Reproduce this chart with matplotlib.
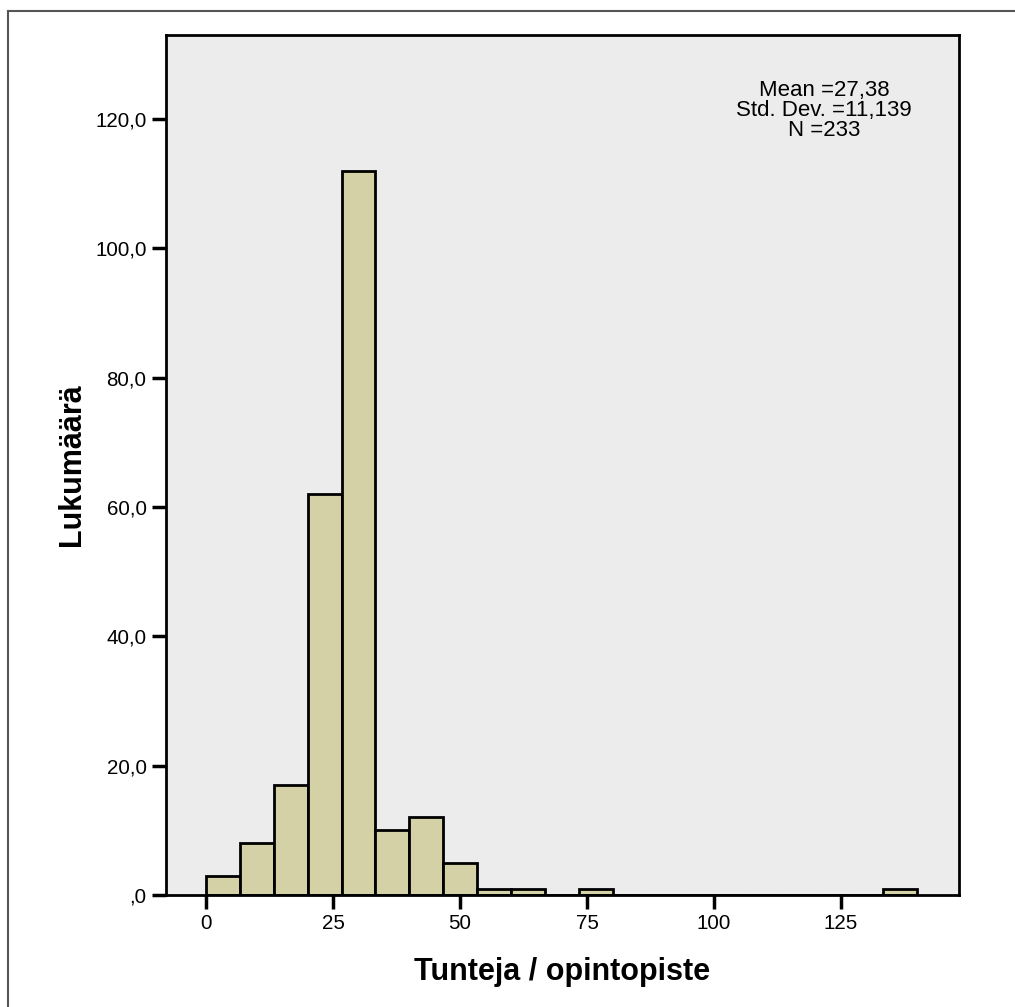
import matplotlib
matplotlib.use('Agg')
import matplotlib.pyplot as plt
from matplotlib.lines import Line2D
from matplotlib.ticker import FuncFormatter
import numpy as np

plt.rcParams['font.family'] = ['Liberation Sans', 'DejaVu Sans']

# histogram of hours per credit, 21 bins of width 140/21
bin_edges = np.linspace(0, 140, 22)
counts = [3, 8, 17, 62, 112, 10, 12, 5, 1, 1, 0, 1, 0, 0, 0, 0, 0, 0, 0, 0, 1]
x_ticks = [0, 25, 50, 75, 100, 125]
y_ticks = [0, 20, 40, 60, 80, 100, 120]
stats_lines = ['Mean =27,38', 'Std. Dev. =11,139', 'N =233']

fig = plt.figure(figsize=(10.15, 10.07), dpi=100)
ax = fig.add_axes([0.1635, 0.1112, 0.7813, 0.854])

ax.set_facecolor('#ececec')
ax.bar(bin_edges[:-1], counts, width=np.diff(bin_edges), align='edge',
       color='#d3d1a5', edgecolor='black', linewidth=2, zorder=2)

ax.set_xlim(-7.9, 148.2)
ax.set_ylim(0, 133)
ax.set_xticks(x_ticks)
ax.set_yticks(y_ticks)


def fmt_y(v, pos):
    s = f'{v:.1f}'.replace('.', ',')
    return ',0' if v == 0 else s


ax.yaxis.set_major_formatter(FuncFormatter(fmt_y))
ax.tick_params(axis='both', direction='out', length=10, width=2.5,
               labelsize=14.8, pad=4)
for sp in ax.spines.values():
    sp.set_linewidth(2)

ax.set_xlabel('Tunteja / opintopiste', fontsize=22, fontweight='bold', labelpad=17)
ax.set_ylabel('Lukumäärä', fontsize=22, fontweight='bold', labelpad=6)

ax.text(0.83, 0.948, '\n'.join(stats_lines), transform=ax.transAxes,
        ha='center', va='top', fontsize=16, linespacing=0.95)

# outer frame (top and left edges)
fig.add_artist(Line2D([8 / 1015, 8 / 1015], [0, 1 - 11 / 1007],
                      transform=fig.transFigure, color='#555555', lw=1.5))
fig.add_artist(Line2D([8 / 1015, 1], [1 - 11 / 1007, 1 - 11 / 1007],
                      transform=fig.transFigure, color='#555555', lw=1.5))

fig.savefig('out.png', dpi=100)
